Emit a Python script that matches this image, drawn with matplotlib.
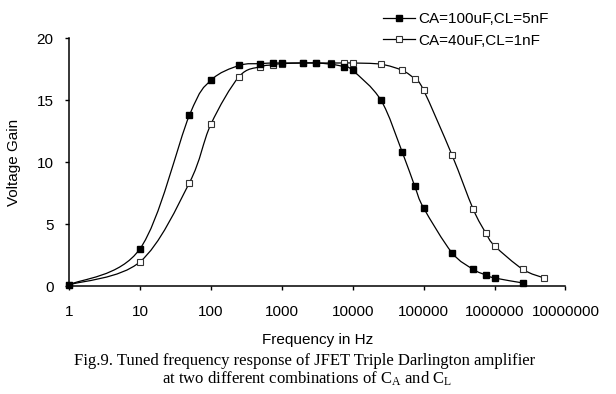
import numpy as np
import matplotlib
matplotlib.use('Agg')
import matplotlib.pyplot as plt
from matplotlib.path import Path
from matplotlib.patches import PathPatch
from matplotlib.lines import Line2D

plt.rcParams['font.family'] = ['Liberation Sans', 'DejaVu Sans']
plt.rcParams['mathtext.default'] = 'regular'

# frequency response data
freq1 = [1, 10, 50, 100, 250, 500, 750, 1000, 2000, 3000, 5000, 7500, 10000,
         25000, 50000, 75000, 100000, 250000, 500000, 750000, 1000000, 2500000]
gain1 = [0.1, 3.0, 13.8, 16.6, 17.8, 17.95, 18.0, 18.0, 18.0, 18.0, 17.9, 17.7, 17.4,
         15.0, 10.8, 8.05, 6.3, 2.7, 1.35, 0.9, 0.65, 0.25]

freq2 = [1, 10, 50, 100, 250, 500, 750, 1000, 2000, 3000, 5000, 7500, 10000,
         25000, 50000, 75000, 100000, 250000, 500000, 750000, 1000000, 2500000, 5000000]
gain2 = [0.1, 1.95, 8.35, 13.05, 16.9, 17.7, 17.85, 17.95, 18.0, 18.0, 18.0, 18.0, 18.0,
         17.9, 17.4, 16.7, 15.8, 10.6, 6.2, 4.3, 3.25, 1.35, 0.65]

labels = ['CA=100uF,CL=5nF', 'CA=40uF,CL=1nF']
xticks = [1, 10, 100, 1000, 10000, 100000, 1000000, 10000000]


def smooth_path(xs, ys):
    # excel-style smoothed line: cubic bezier segments through the points (in log-x space)
    u = np.log10(xs)
    v = np.asarray(ys, dtype=float)
    n = len(u)
    verts = [(xs[0], v[0])]
    codes = [Path.MOVETO]
    for i in range(n - 1):
        i0 = max(i - 1, 0)
        i3 = min(i + 2, n - 1)
        c1u = u[i] + (u[i + 1] - u[i0]) / 6
        c1v = v[i] + (v[i + 1] - v[i0]) / 6
        c2u = u[i + 1] - (u[i3] - u[i]) / 6
        c2v = v[i + 1] - (v[i3] - v[i]) / 6
        verts += [(10 ** c1u, c1v), (10 ** c2u, c2v), (xs[i + 1], v[i + 1])]
        codes += [Path.CURVE4] * 3
    return Path(verts, codes)


fig = plt.figure(figsize=(6.16, 3.94), dpi=100)
ax = fig.add_axes([0.112, 0.274, 0.806, 0.629])
ax.set_xscale('log')
ax.set_xlim(1, 1e7)
ax.set_ylim(0, 20)

for f, g in [(freq2, gain2), (freq1, gain1)]:
    ax.add_patch(PathPatch(smooth_path(f, g), fill=False, lw=0.9, color='black'))

# open markers first so the filled ones sit on top on the plateau
ax.plot(freq2, gain2, ls='none', marker='s', ms=4, mfc='white', mec='#333333', mew=0.8, clip_on=False)
ax.plot(freq1, gain1, ls='none', marker='s', ms=4.3, mfc='black', mec='black', clip_on=False)

ax.set_xticks(xticks)
ax.set_xticklabels([str(t) for t in xticks])
ax.xaxis.set_minor_locator(matplotlib.ticker.NullLocator())
ax.set_yticks([0, 5, 10, 15, 20])

for s in ['top', 'right']:
    ax.spines[s].set_visible(False)
for s in ['left', 'bottom']:
    ax.spines[s].set_linewidth(1.1)
ax.tick_params(direction='out', length=3, width=1, labelsize=11, colors='black')
ax.tick_params(axis='x', pad=11)
ax.tick_params(axis='y', pad=8)

ax.set_xlabel('Frequency in Hz', fontsize=11)
ax.xaxis.set_label_coords(0.5, -0.19)
ax.set_ylabel('Voltage Gain', fontsize=11)
ax.yaxis.set_label_coords(-0.097, 0.5)

handles = [
    Line2D([], [], color='black', lw=0.9, marker='s', ms=4.3, mfc='black', mec='black'),
    Line2D([], [], color='black', lw=0.9, marker='s', ms=4, mfc='white', mec='#333333', mew=0.8),
]
fig.legend(handles, labels, loc='upper left', bbox_to_anchor=(383 / 616, 1 - 12 / 394),
           frameon=False, fontsize=11, borderpad=0, borderaxespad=0, handlelength=2.1,
           handletextpad=0.2, labelspacing=0.5)

fig.text(0.495, 1 - 361 / 394, 'Fig.9. Tuned frequency response of JFET Triple Darlington amplifier',
         ha='center', va='center', fontsize=12, family='Liberation Serif')
fig.text(0.498, 1 - 379 / 394, 'at two different combinations of C$_A$ and C$_L$',
         ha='center', va='center', fontsize=12, family='Liberation Serif')

fig.savefig('out.png', dpi=100)
